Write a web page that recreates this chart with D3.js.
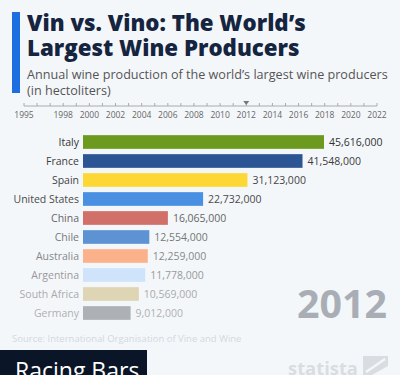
<!DOCTYPE html>
<html><head><meta charset="utf-8">
<script src="https://cdn.jsdelivr.net/npm/d3@7"></script>
<style>
html,body{margin:0;padding:0;background:#f4f7fa;}
svg{display:block;}
</style></head>
<body>
<script>
const countries = ["Italy","France","Spain","United States","China","Chile","Australia","Argentina","South Africa","Germany"];
const values = [45616000,41548000,31123000,22732000,16065000,12554000,12259000,11778000,10569000,9012000];
const barColors = ["#6b9a1f","#2c5593","#fdd835","#4a90e2","#d16f69","#5e93d3","#fbb28b","#cfe3fa","#ddd5b4","#adb0b4"];
const labelColors = ["#333","#3d3d3d","#444","#4a4a4a","#666","#777","#888","#999","#aaa","#b0b0b0"];
const years = d3.range(1995, 2023);
const yearLabels = [1995,1998,2000,2002,2004,2006,2008,2010,2012,2014,2016,2018,2020,2022];
const currentYear = 2012;

const W=400,H=375;
const svg=d3.select("body").append("svg").attr("width",W).attr("height",H);
svg.append("rect").attr("width",W).attr("height",H).attr("fill","#f4f7fa");

// header
svg.append("rect").attr("x",12).attr("y",12).attr("width",8).attr("height",81).attr("fill","#1b6fe0");
const font="'Open Sans', sans-serif";
function fitText(t,target){const w=t.node().getComputedTextLength();const fs=parseFloat(t.attr("font-size"));t.attr("font-size",fs*target/w);}
const t1=svg.append("text").attr("x",27).attr("y",31).attr("font-family",font).attr("font-weight",800).attr("font-size",24).attr("fill","#15253f").text("Vin vs. Vino: The World’s");
fitText(t1,279);
const t2=svg.append("text").attr("x",27).attr("y",55.5).attr("font-family",font).attr("font-weight",800).attr("font-size",24).attr("fill","#15253f").text("Largest Wine Producers");
t2.attr("font-size",t1.attr("font-size"));
const s1=svg.append("text").attr("x",27).attr("y",79).attr("font-family",font).attr("font-size",13).attr("fill","#555").text("Annual wine production of the world’s largest wine producers");
fitText(s1,361);
svg.append("text").attr("x",27).attr("y",95).attr("font-family",font).attr("font-size",s1.attr("font-size")).attr("fill","#555").text("(in hectoliters)");

// timeline
const xt=d3.scaleLinear().domain([1995,2022]).range([24,377]);
const axisY=106;
svg.append("line").attr("x1",xt(1995)).attr("x2",xt(2022)).attr("y1",axisY).attr("y2",axisY).attr("stroke","#aaa").attr("stroke-width",1);
svg.selectAll(".tk").data(years).join("line").attr("x1",d=>xt(d)).attr("x2",d=>xt(d)).attr("y1",axisY-3).attr("y2",axisY).attr("stroke","#aaa");
svg.selectAll(".tl").data(yearLabels).join("text").attr("x",d=>xt(d)).attr("y",118).attr("text-anchor","middle").attr("font-family",font).attr("font-size",8.5).attr("fill","#666").text(d=>d);
const cx=xt(currentYear);
svg.append("path").attr("d",`M${cx-3},${axisY-5}L${cx+3},${axisY-5}L${cx},${axisY-1}Z`).attr("fill","#777");

// bars
const x=d3.scaleLinear().domain([0,45616000]).range([83,324]);
const y=d3.scaleBand().domain(countries).range([132.5,322.5]).paddingInner(0.28).paddingOuter(0.14);
const g=svg.append("g");
g.selectAll("rect.b").data(countries).join("rect").attr("x",x(0)).attr("y",d=>y(d)).attr("height",y.bandwidth()).attr("width",(d,i)=>x(values[i])-x(0)).attr("fill",(d,i)=>barColors[i]);
g.selectAll("text.c").data(countries).join("text").attr("x",79).attr("y",d=>y(d)+y.bandwidth()/2).attr("dy","0.35em").attr("text-anchor","end").attr("font-family",font).attr("font-size",10.5).attr("fill",(d,i)=>labelColors[i]).text(d=>d);
g.selectAll("text.v").data(countries).join("text").attr("x",(d,i)=>x(values[i])+5).attr("y",d=>y(d)+y.bandwidth()/2).attr("dy","0.35em").attr("font-family",font).attr("font-size",10.5).attr("fill",(d,i)=>labelColors[i]).text((d,i)=>d3.format(",")(values[i]));

// year
const yr=svg.append("text").attr("x",387).attr("y",318).attr("text-anchor","end").attr("font-family",font).attr("font-weight",700).attr("font-size",38).attr("fill","#a9aeb6").text(currentYear);
fitText(yr,90);

// source
svg.append("text").attr("x",12).attr("y",342).attr("font-family",font).attr("font-size",9.5).attr("fill","#d3d8de").text("Source: International Organisation of Vine and Wine");

// racing bars box
svg.append("rect").attr("x",0).attr("y",350).attr("width",147).attr("height",25).attr("fill","#0a1628");
svg.append("text").attr("x",15).attr("y",379).attr("font-family",font).attr("font-size",23).attr("fill","#fff").text("Racing Bars");

// statista logo
const lg=svg.append("text").attr("x",288).attr("y",375).attr("font-family",font).attr("font-weight",700).attr("font-size",24).attr("fill","#d9dde2").text("statista");
fitText(lg,70);
svg.append("path").attr("d","M363,356L388,356L388,366L372,375L363,375Z").attr("fill","#d9dde2");
svg.append("path").attr("d","M366,372L385,359").attr("stroke","#f4f7fa").attr("stroke-width",2.5);
</script>
</body></html>
